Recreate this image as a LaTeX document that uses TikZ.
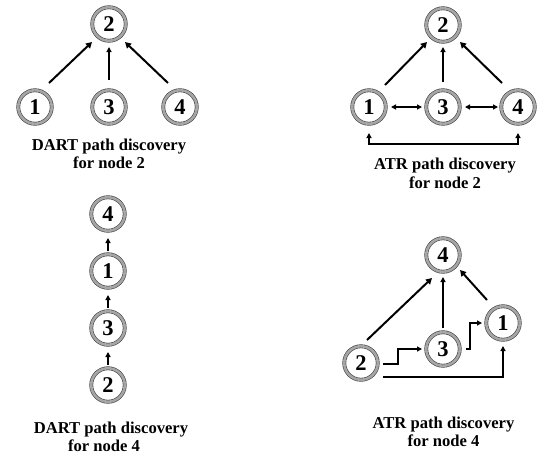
\documentclass[tikz,border=0pt]{standalone}
\usepackage{fontspec}
\setmainfont{Liberation Serif}
\usetikzlibrary{arrows.meta,calc}
\tikzset{
  ring/.style={circle, draw=black!75, line width=0.6pt, double=gray!70, double distance=2.6pt,
    minimum size=33.5pt, inner sep=0pt, font=\bfseries\fontsize{22.5}{22.5}\selectfont},
  lbl/.style={align=center, font=\bfseries\fontsize{16.6}{18.5}\selectfont},
  arr/.style={line width=2pt, -{Triangle[length=6pt,width=6.5pt]}},
  thinarr/.style={line width=1.5pt, -{Triangle[length=5pt,width=5pt]}},
  biarr/.style={line width=1.5pt, {Triangle[length=5pt,width=5pt]}-{Triangle[length=5pt,width=5pt]}},
}
\begin{document}
\begin{tikzpicture}[x=1pt,y=-1pt]
\useasboundingbox (0,0) rectangle (539,456);
% top-left: DART for node 2
\node[ring] (A2) at (109,24) {2};
\node[ring] (A1) at (35,107) {1};
\node[ring] (A3) at (109,107) {3};
\node[ring] (A4) at (180,107) {4};
\draw[arr] ($(A1)+(14,-24)$) -- ($(A2)+(-17,18)$);
\draw[thinarr] ($(A3)+(0,-27)$) -- ($(A2)+(0,23)$);
\draw[arr] ($(A4)+(-12,-24)$) -- ($(A2)+(16,18)$);
\node[lbl] (LA) at (109,154) {DART path discovery\\for node 2};
% top-right: ATR for node 2
\node[ring] (B2) at (443,25) {2};
\node[ring] (B1) at (369,107) {1};
\node[ring] (B3) at (443,107) {3};
\node[ring] (B4) at (518,107) {4};
\draw[arr] ($(B1)+(16,-22)$) -- ($(B2)+(-16,17)$);
\draw[thinarr] ($(B3)+(0,-25)$) -- ($(B2)+(0,22)$);
\draw[arr] ($(B4)+(-16,-24)$) -- ($(B2)+(17,17)$);
\draw[biarr] ($(B1)+(22,0)$) -- ($(B3)+(-21,0)$);
\draw[biarr] ($(B3)+(22,0)$) -- ($(B4)+(-20,0)$);
\draw[biarr] ($(B1)+(0,26)$) -- ++(0,11) -| ($(B4)+(0,26)$);
\node[lbl] (LB) at (445,173.5) {ATR path discovery\\for node 2};
% bottom-left: DART for node 4
\node[ring] (C4) at (108,214) {4};
\node[ring] (C1) at (108,271) {1};
\node[ring] (C3) at (108,328) {3};
\node[ring] (C2) at (108,385) {2};
\draw[thinarr] ($(C1)+(0,-20)$) -- ($(C4)+(0,24)$);
\draw[thinarr] ($(C3)+(0,-20)$) -- ($(C1)+(0,24)$);
\draw[thinarr] ($(C2)+(0,-20)$) -- ($(C3)+(0,24)$);
\node[lbl] (LC) at (111,437) {DART path discovery\\for node 4\hspace*{14pt}};
% bottom-right: ATR for node 4
\node[ring] (D4) at (443,255) {4};
\node[ring] (D1) at (503,323) {1};
\node[ring] (D3) at (443,349) {3};
\node[ring] (D2) at (361,363) {2};
\draw[arr] ($(D2)+(6,-23)$) -- ($(D4)+(-11,23)$);
\draw[thinarr] ($(D3)+(0,-21)$) -- ($(D4)+(0,22)$);
\draw[arr] ($(D1)+(-16,-23)$) -- ($(D4)+(17,15)$);
\draw[thinarr] ($(D2)+(22,1)$) -- ++(15,0) |- ($(D3)+(-21,0)$);
\draw[thinarr] ($(D3)+(23,0)$) -- ++(4,0) |- ($(D1)+(-21,0)$);
\draw[thinarr] ($(D2)+(22,14)$) -| ($(D1)+(0,23)$);
\node[lbl] (LD) at (443.5,432) {ATR path discovery\\for node 4};
\end{tikzpicture}
\end{document}
